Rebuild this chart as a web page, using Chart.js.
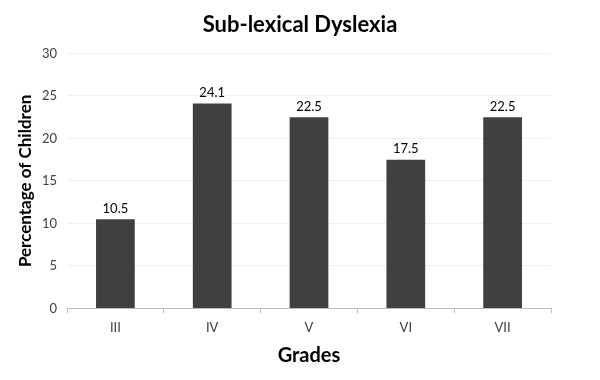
<!DOCTYPE html>
<html>
<head>
<meta charset="utf-8">
<script src="https://cdn.jsdelivr.net/npm/chart.js@4"></script>
<style>
html,body{margin:0;padding:0;background:#fff;}
#wrap{width:600px;height:380px;}
</style>
</head>
<body>
<div id="wrap"><canvas id="c" width="600" height="380"></canvas></div>
<script>
const categories = ["III", "IV", "V", "VI", "VII"];
const percentages = [10.5, 24.1, 22.5, 17.5, 22.5];
const yTicks = [0, 5, 10, 15, 20, 25, 30];

const FONT = "Lato, 'Open Sans', sans-serif";

const valueLabels = {
  id: 'valueLabels',
  afterDatasetsDraw(chart) {
    const ctx = chart.ctx;
    const meta = chart.getDatasetMeta(0);
    ctx.save();
    ctx.font = "13px " + FONT;
    ctx.fillStyle = "#000";
    ctx.textAlign = "center";
    ctx.textBaseline = "bottom";
    meta.data.forEach((el, i) => {
      ctx.fillText(String(chart.data.datasets[0].data[i]), el.x, el.y - 4);
    });
    ctx.restore();
  }
};

new Chart(document.getElementById('c'), {
  type: 'bar',
  data: {
    labels: categories,
    datasets: [{
      data: percentages,
      yAxisID: 'y',
      backgroundColor: '#404040',
      borderWidth: 0,
      barPercentage: 0.4,
      categoryPercentage: 1.0
    }]
  },
  options: {
    responsive: false,
    animation: false,
    devicePixelRatio: 1,
    layout: { padding: { left: 0, right: 0, top: 0, bottom: 12 } },
    plugins: {
      legend: { display: false },
      tooltip: { enabled: false },
      title: {
        display: true,
        text: 'Sub-lexical Dyslexia',
        color: '#000',
        font: { family: FONT, size: 22, weight: 'bold' },
        padding: { top: 12, bottom: 15 }
      }
    },
    scales: {
      x: {
        grid: { display: true, drawOnChartArea: false, drawTicks: true, tickLength: 5, color: '#bfbfbf', offset: true },
        border: { display: true, color: '#bfbfbf' },
        ticks: { color: '#404040', font: { family: FONT, size: 13 }, padding: 7 },
        title: {
          display: true, text: 'Grades', color: '#000',
          font: { family: FONT, size: 20, weight: 'bold' },
          padding: { top: 1, bottom: 0 }
        }
      },
      y: {
        position: 'left',
        min: 0, max: 30,
        afterBuildTicks(axis) { axis.ticks = yTicks.map(v => ({ value: v })); },
        afterFit(axis) { axis.width = 67; },
        grid: { color: '#efefef', drawTicks: false },
        border: { display: false },
        ticks: { color: '#404040', font: { family: FONT, size: 13 }, padding: 10 },
        title: {
          display: true, text: 'Percentage of Children', color: '#000',
          font: { family: FONT, size: 17, weight: 'bold' },
          padding: { top: 15, bottom: 4 }
        }
      },
      yRight: {
        position: 'right',
        display: true,
        grid: { display: false },
        border: { display: false },
        ticks: { display: false },
        afterFit(axis) { axis.width = 49; }
      }
    }
  },
  plugins: [valueLabels]
});
</script>
</body>
</html>
